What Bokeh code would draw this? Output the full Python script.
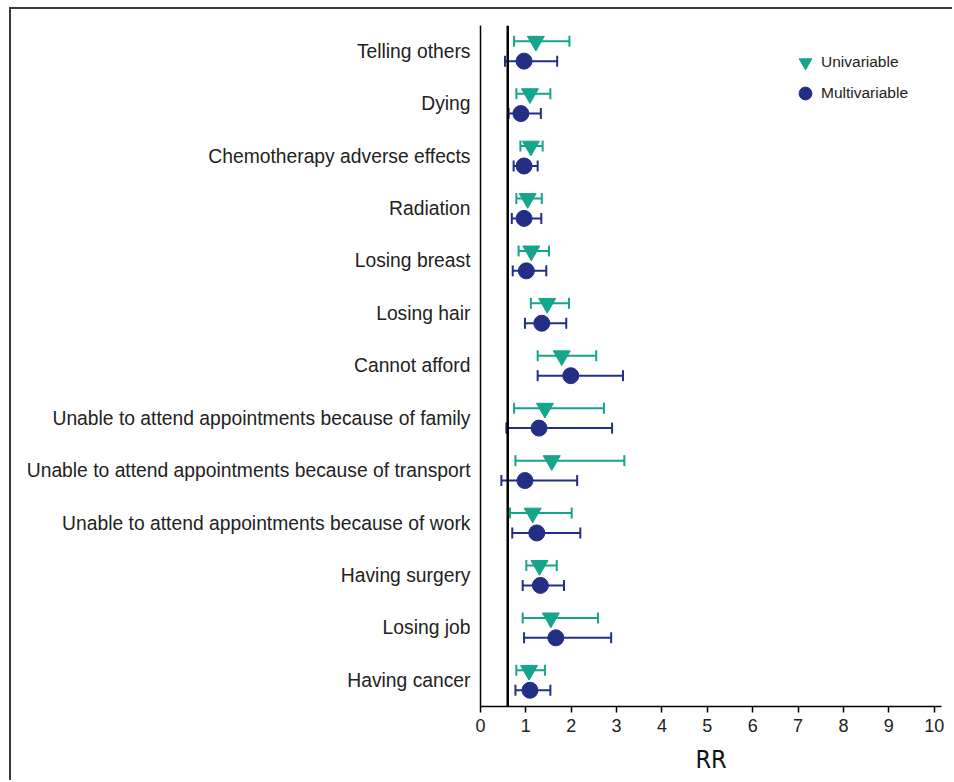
import numpy as np
from bokeh.plotting import figure
from bokeh.models import (ColumnDataSource, Whisker, TeeHead, Span, Legend, LegendItem,
                          FixedTicker, InlineStyleSheet)
from bokeh.embed import file_html
from bokeh.resources import INLINE

# ---- data (top to bottom as in the chart) ----
categories = [
    "Telling others", "Dying", "Chemotherapy adverse effects", "Radiation",
    "Losing breast", "Losing hair", "Cannot afford",
    "Unable to attend appointments because of family",
    "Unable to attend appointments because of transport",
    "Unable to attend appointments because of work",
    "Having surgery", "Losing job", "Having cancer",
]
uni_rr = [1.22, 1.09, 1.11, 1.04, 1.12, 1.47, 1.79, 1.42, 1.57, 1.15, 1.30, 1.55, 1.07]
uni_lo = [0.74, 0.79, 0.88, 0.79, 0.84, 1.11, 1.26, 0.74, 0.77, 0.65, 1.01, 0.93, 0.79]
uni_hi = [1.96, 1.54, 1.37, 1.35, 1.51, 1.95, 2.55, 2.72, 3.17, 2.01, 1.68, 2.59, 1.42]
multi_rr = [0.96, 0.89, 0.96, 0.96, 1.01, 1.35, 1.99, 1.29, 0.98, 1.24, 1.32, 1.66, 1.09]
multi_lo = [0.54, 0.62, 0.73, 0.69, 0.71, 0.98, 1.26, 0.57, 0.46, 0.70, 0.93, 0.96, 0.77]
multi_hi = [1.69, 1.33, 1.26, 1.34, 1.45, 1.89, 3.14, 2.90, 2.13, 2.20, 1.84, 2.88, 1.54]
ref_line = 0.6
x_ticks = list(range(0, 11))

TEAL = "#14a58a"
NAVY = "#232f85"

n = len(categories)
pos = np.arange(n)[::-1].astype(float)   # top category gets highest position
off = 0.19

uni_src = ColumnDataSource(dict(y=pos + off, x=uni_rr, lo=uni_lo, hi=uni_hi))
multi_src = ColumnDataSource(dict(y=pos - off, x=multi_rr, lo=multi_lo, hi=multi_hi))

p = figure(width=943, height=773, output_backend="svg", toolbar_location=None,
           x_range=(0, 10.16), y_range=(-0.5, n - 0.51),
           min_border_left=469, min_border_right=13, min_border_top=16, min_border_bottom=76)
p.stylesheets = [InlineStyleSheet(css=":host { margin-left: 9px; margin-top: 7px; border-left: 2px solid #3a3a3a; border-top: 2px solid #3a3a3a; }")]
p.outline_line_color = None
p.grid.visible = False
p.background_fill_color = "white"

# error bars
for src, col in ((uni_src, TEAL), (multi_src, NAVY)):
    w = Whisker(source=src, base="y", lower="lo", upper="hi", dimension="width",
                line_color=col, line_width=2,
                lower_head=TeeHead(size=11, line_color=col, line_width=2),
                upper_head=TeeHead(size=11, line_color=col, line_width=2))
    p.add_layout(w)

p.add_layout(Span(location=ref_line, dimension="height", line_color="black", line_width=2.5))

r_uni = p.scatter("x", "y", source=uni_src, marker="inverted_triangle", size=17,
                  fill_color=TEAL, line_color=TEAL)
r_multi = p.scatter("x", "y", source=multi_src, marker="circle", size=16,
                    fill_color=NAVY, line_color=NAVY)

leg_style = dict(border_line_color=None, background_fill_alpha=0,
                 label_text_font="Liberation Sans", label_text_font_size="15.5px",
                 label_text_color="#222222", glyph_width=32, glyph_height=32,
                 label_height=32, spacing=0, padding=5, label_standoff=0)
p.add_layout(Legend(items=[LegendItem(label="Univariable", renderers=[r_uni])],
                    location=(309, 628), **leg_style))
p.add_layout(Legend(items=[LegendItem(label="Multivariable", renderers=[r_multi])],
                    location=(309, 597), **leg_style))

# axes
p.xaxis.ticker = FixedTicker(ticks=x_ticks)
p.xaxis.minor_tick_line_color = None
p.xaxis.major_tick_out = 6
p.xaxis.major_tick_in = 0
p.xaxis.major_tick_line_width = 1.5
p.xaxis.axis_line_width = 1.5
p.xaxis.axis_line_color = "black"
p.xaxis.major_label_text_font = "Liberation Sans"
p.xaxis.major_label_text_font_size = "18px"
p.xaxis.major_label_text_color = "#222222"
p.xaxis.major_label_standoff = 6
p.xaxis.axis_label = "RR"
p.xaxis.axis_label_text_font = "DejaVu Sans Condensed"
p.xaxis.axis_label_text_font_size = "25px"
p.xaxis.axis_label_text_font_style = "normal"
p.xaxis.axis_label_text_color = "#111111"
p.xaxis.axis_label_standoff = 10

p.yaxis.ticker = FixedTicker(ticks=list(pos))
p.yaxis.major_label_overrides = {float(v): c for v, c in zip(pos, categories)}
p.yaxis.major_tick_line_color = None
p.yaxis.minor_tick_line_color = None
p.yaxis.axis_line_width = 1.5
p.yaxis.axis_line_color = "black"
p.yaxis.major_label_text_font = "Liberation Sans"
p.yaxis.major_label_text_font_size = "19.3px"
p.yaxis.major_label_text_color = "#222222"
p.yaxis.major_label_standoff = 4

open("out.html", "w").write(file_html(p, INLINE))
